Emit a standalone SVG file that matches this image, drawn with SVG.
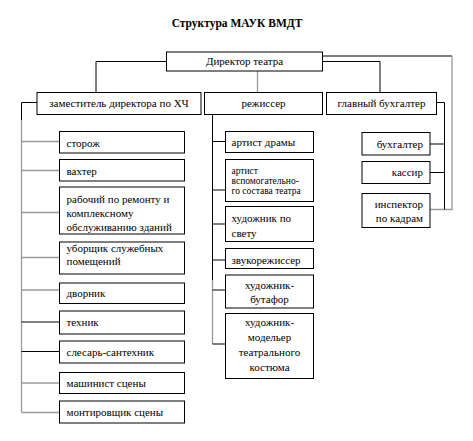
<svg xmlns="http://www.w3.org/2000/svg" width="473" height="441" viewBox="0 0 473 441" font-family="'Liberation Serif', 'Times New Roman', 'DejaVu Serif', serif">
<style>
.box{fill:#fff;stroke:#000;stroke-width:1}
text{font-family:'Liberation Serif','Times New Roman','DejaVu Serif',serif;font-size:11px;fill:#000}
.t{font-weight:bold;font-size:11.5px}
.s{font-size:9.5px}
.c{text-anchor:middle}
.e{text-anchor:end}
.k{fill:none;stroke:#000;stroke-width:1}
.g{fill:none;stroke:#9a9a9a;stroke-width:1.3}
</style>
<rect width="473" height="441" fill="#fff"/>
<text class="t c" x="237" y="27">Структура МАУК ВМДТ</text>
<g id="connectors">
<path class="k" d="M166 61.5H96V92"/>
<path class="g" d="M257.5 71V92"/>
<path class="k" d="M322.5 56H452"/>
<path class="g" d="M452 56V209.5H430"/>
<path class="k" d="M322.5 61.5H380V92"/>
<path class="k" d="M436.5 102.5H444.5V209.5"/>
<path class="k" d="M444.5 144H430M444.5 172.5H430"/>
<path class="k" d="M37 102.5H21.5V120"/>
<path class="g" d="M21.5 120V412.5"/>
<path class="g" d="M21.5 141.5H59M21.5 170.5H59M21.5 212.5H59M21.5 257.5H59M21.5 290H59M21.5 383H59M21.5 412.5H59"/>
<path class="k" d="M21.5 322H59M21.5 351.5H59"/>
<path class="k" d="M212.5 114V280"/>
<path class="g" d="M212.5 280V344"/>
<path class="k" d="M212.5 141.5H225M212.5 190H225M212.5 224H225M212.5 260H225M212.5 290H225M212.5 344H225"/>
</g>
<g id="director"><rect class="box" x="166.5" y="52" width="156" height="19"/><text class="c" x="244.5" y="65">Директор театра</text></g>
<g id="zam"><rect class="box" x="37" y="92.5" width="164" height="22"/><text class="c" x="119" y="107">заместитель директора по ХЧ</text></g>
<g id="rezh"><rect class="box" x="204.5" y="92.5" width="118" height="22"/><text class="c" x="263.5" y="107">режиссер</text></g>
<g id="glavbuh"><rect class="box" x="326.5" y="92.5" width="110" height="22"/><text class="c" x="381.5" y="107">главный бухгалтер</text></g>
<g id="storozh"><rect class="box" x="59.5" y="131.5" width="125" height="21.5"/><text x="66.5" y="146.5">сторож</text></g>
<g id="vahter"><rect class="box" x="59.5" y="159.5" width="125" height="21.5"/><text x="66.5" y="174.5">вахтер</text></g>
<g id="rabochiy"><rect class="box" x="59.5" y="187" width="125" height="47"/><text x="66.5" y="203">рабочий по ремонту и</text><text x="66.5" y="216.5">комплексному</text><text x="66.5" y="230.5">обслуживанию зданий</text></g>
<g id="uborshik"><rect class="box" x="59.5" y="242" width="125" height="32"/><text x="66.5" y="252">уборщик служебных</text><text x="66.5" y="264.5">помещений</text></g>
<g id="dvornik"><rect class="box" x="59.5" y="283" width="125" height="20.5"/><text x="66.5" y="297">дворник</text></g>
<g id="tehnik"><rect class="box" x="59.5" y="311" width="125" height="23"/><text x="66.5" y="325.5">техник</text></g>
<g id="slesar"><rect class="box" x="59.5" y="341" width="125" height="22"/><text x="66.5" y="355.5">слесарь-сантехник</text></g>
<g id="mashinist"><rect class="box" x="59.5" y="372.5" width="125" height="21"/><text x="66.5" y="386.5">машинист сцены</text></g>
<g id="montirovshik"><rect class="box" x="59.5" y="401" width="125" height="22"/><text x="66.5" y="416">монтировщик сцены</text></g>
<g id="artist"><rect class="box" x="225.5" y="131.5" width="88" height="21"/><text x="231.5" y="145.5">артист драмы</text></g>
<g id="artist2"><rect class="box" x="225.5" y="159.5" width="88" height="42"/><text class="s" x="231.5" y="173.5">артист</text><text class="s" x="231.5" y="183.5">вспомогательно-</text><text class="s" x="231.5" y="193.5">го состава театра</text></g>
<g id="svet"><rect class="box" x="225.5" y="206.5" width="88" height="35"/><text x="231.5" y="222">художник по</text><text x="231.5" y="237">свету</text></g>
<g id="zvuk"><rect class="box" x="225.5" y="248.5" width="88" height="20"/><text x="231.5" y="264">звукорежиссер</text></g>
<g id="butafor"><rect class="box" x="225.5" y="275" width="88" height="33"/><text class="c" x="269.5" y="289">художник-</text><text class="c" x="269.5" y="303">бутафор</text></g>
<g id="modeler"><rect class="box" x="225.5" y="313.5" width="88" height="65"/><text class="c" x="269.5" y="326">художник-</text><text class="c" x="269.5" y="341">модельер</text><text class="c" x="269.5" y="356">театрального</text><text class="c" x="269.5" y="371">костюма</text></g>
<g id="buh"><rect class="box" x="362" y="132.5" width="68" height="22.5"/><text class="e" x="423" y="148">бухгалтер</text></g>
<g id="kassir"><rect class="box" x="362" y="161.5" width="68" height="22"/><text class="e" x="423" y="176">кассир</text></g>
<g id="inspektor"><rect class="box" x="362" y="193.5" width="68" height="34"/><text class="e" x="423" y="208">инспектор</text><text class="e" x="423" y="221.5">по кадрам</text></g>
</svg>
